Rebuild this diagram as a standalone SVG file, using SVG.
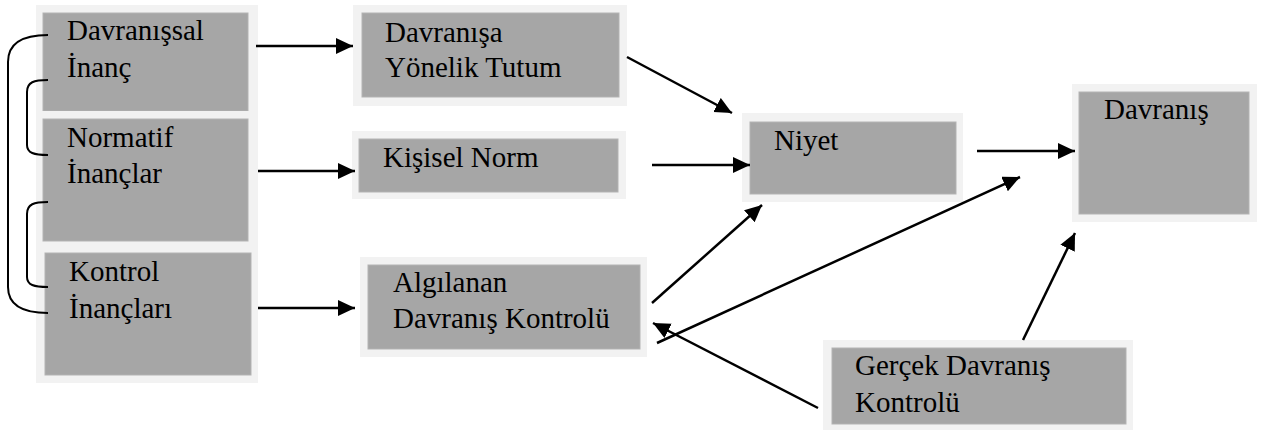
<svg xmlns="http://www.w3.org/2000/svg" width="1267" height="430" viewBox="0 0 1267 430">
  <style>
    .frame { fill: #f2f2f2; }
    .box { fill: #a6a6a6; stroke: #b3b3b3; stroke-width: 1; }
    .label { font-family: "Liberation Serif", "DejaVu Serif", serif; font-size: 29px; fill: #000; }
    .conn { stroke: #000; stroke-width: 2.5; fill: none; }
    .brace { stroke: #000; stroke-width: 2; fill: none; }
  </style>
  <defs>
    <marker id="arrow" markerUnits="userSpaceOnUse" markerWidth="18" markerHeight="17" refX="17" refY="8" orient="auto">
      <path d="M0,0 L17,8 L0,16 Z" fill="#000"/>
    </marker>
  </defs>
  <rect width="1267" height="430" fill="#fff"/>

  <!-- belief boxes (left column) -->
  <g id="davranissal-inanc" font-family="Liberation Serif, serif">
    <rect class="frame" x="36" y="5" width="222" height="110"/>
    <rect class="box" x="43" y="13" width="205" height="98"/>
    <text class="label" x="67" y="40">Davranışsal</text>
    <text class="label" x="67" y="77">İnanç</text>
  </g>
  <g id="normatif-inanclar">
    <rect class="frame" x="36" y="111" width="222" height="137"/>
    <rect class="box" x="43" y="119" width="205" height="122"/>
    <text class="label" x="67" y="147">Normatif</text>
    <text class="label" x="67" y="183">İnançlar</text>
  </g>
  <g id="kontrol-inanclari">
    <rect class="frame" x="36" y="245" width="222" height="138"/>
    <rect class="box" x="45" y="253" width="206" height="122"/>
    <text class="label" x="69" y="281">Kontrol</text>
    <text class="label" x="69" y="318">İnançları</text>
  </g>

  <!-- brackets joining the belief boxes -->
  <g id="brackets">
    <path class="brace" d="M48,35 C24,35 8,42 8,62 L8,287 C8,306 24,313 48,313"/>
    <path class="brace" d="M48,80 C34,80 27,82 27,92 L27,145 C27,153 34,155 48,155"/>
    <path class="brace" d="M48,202 C34,202 27,204 27,214 L27,277 C27,285 34,287 48,287"/>
  </g>

  <g id="tutum">
    <rect class="frame" x="353" y="5" width="274" height="101"/>
    <rect class="box" x="362" y="13" width="257" height="84"/>
    <text class="label" x="385" y="42">Davranışa</text>
    <text class="label" x="385" y="77">Yönelik Tutum</text>
  </g>
  <g id="kisisel-norm">
    <rect class="frame" x="352" y="131" width="274" height="68"/>
    <rect class="box" x="359" y="139" width="259" height="53"/>
    <text class="label" x="383" y="167">Kişisel Norm</text>
  </g>
  <g id="algilanan">
    <rect class="frame" x="360" y="257" width="287" height="100"/>
    <rect class="box" x="368" y="265" width="272" height="84"/>
    <text class="label" x="393" y="292">Algılanan</text>
    <text class="label" x="393" y="328">Davranış Kontrolü</text>
  </g>
  <g id="niyet">
    <rect class="frame" x="742" y="113" width="221" height="89"/>
    <rect class="box" x="750" y="122" width="206" height="72"/>
    <text class="label" x="774" y="150">Niyet</text>
  </g>
  <g id="davranis">
    <rect class="frame" x="1072" y="84" width="185" height="138"/>
    <rect class="box" x="1079" y="92" width="170" height="122"/>
    <text class="label" x="1104" y="119">Davranış</text>
  </g>
  <g id="gercek">
    <rect class="frame" x="823" y="340" width="310" height="90"/>
    <rect class="box" x="832" y="348" width="294" height="76"/>
    <text class="label" x="855" y="375">Gerçek Davranış</text>
    <text class="label" x="855" y="412">Kontrolü</text>
  </g>

  <!-- connectors -->
  <g id="connectors">
    <line class="conn" x1="256" y1="46" x2="353" y2="46" marker-end="url(#arrow)"/>
    <line class="conn" x1="258" y1="171" x2="355" y2="171" marker-end="url(#arrow)"/>
    <line class="conn" x1="258" y1="308" x2="355" y2="308" marker-end="url(#arrow)"/>
    <line class="conn" x1="627" y1="57" x2="732" y2="113" marker-end="url(#arrow)"/>
    <line class="conn" x1="652" y1="165" x2="750" y2="165" marker-end="url(#arrow)"/>
    <line class="conn" x1="652" y1="303" x2="762" y2="205" marker-end="url(#arrow)"/>
    <line class="conn" x1="657" y1="343" x2="1020" y2="177" marker-end="url(#arrow)"/>
    <line class="conn" x1="977" y1="151" x2="1075" y2="151" marker-end="url(#arrow)"/>
    <line class="conn" x1="1023" y1="340" x2="1075" y2="233" marker-end="url(#arrow)"/>
    <line class="conn" x1="818" y1="408" x2="653" y2="323" marker-end="url(#arrow)"/>
  </g>
</svg>
